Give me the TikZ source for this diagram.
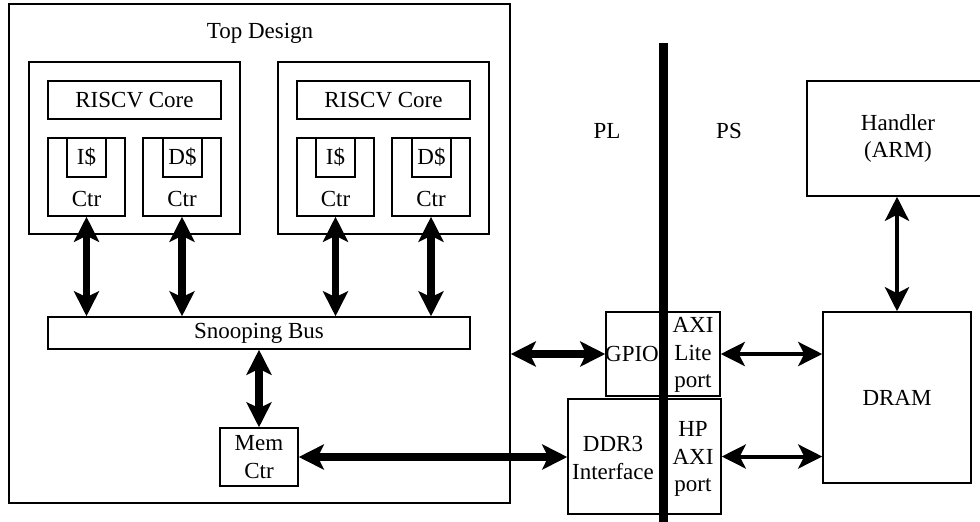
\documentclass[tikz,border=0pt]{standalone}
\usepackage{fontspec}
\setmainfont{Liberation Serif}
\usetikzlibrary{arrows.meta}

\tikzset{
  box/.style={draw, line width=0.75pt, inner sep=0pt, align=center},
  txt/.style={inner sep=0pt, align=center},
  bigarrow/.style={line width=3.75pt,
    {Stealth[length=12.5pt,width=12.5pt,inset=3pt]}-{Stealth[length=12.5pt,width=12.5pt,inset=3pt]}},
  thinarrow/.style={line width=2pt,
    {Stealth[length=12pt,width=12pt,inset=3pt]}-{Stealth[length=12pt,width=12pt,inset=3pt]}},
}

\begin{document}
\begin{tikzpicture}[x=0.5pt, y=-0.5pt, font=\fontsize{11.5}{13.6}\selectfont]
\useasboundingbox (0,0) rectangle (980,521);
\clip (0,0) rectangle (980,521);

% programmable logic: top design
\node[box, minimum width=250.5pt, minimum height=249.5pt] (top) at (259.5,253.5) {};
\node[txt] (toplbl) at (260,33) {Top Design};

% first core cluster
\node[box, minimum width=105.5pt, minimum height=86pt] (cl1) at (134.5,148) {};
\node[box, minimum width=86.5pt, minimum height=19pt] (core1) at (134.5,100) {RISCV Core};
\node[box, minimum width=38.5pt, minimum height=39pt] (ictr1) at (86.5,177) {};
\node[box, minimum width=39pt, minimum height=39pt] (dctr1) at (182,177) {};
\node[box, minimum width=19.5pt, minimum height=19.5pt] (ic1) at (86.5,157.5) {I\$};
\node[box, minimum width=19.5pt, minimum height=19.5pt] (dc1) at (182.5,157.5) {D\$};
\node[txt] (ictr1lbl) at (86.5,199) {Ctr};
\node[txt] (dctr1lbl) at (182,199) {Ctr};

% second core cluster
\node[box, minimum width=105.5pt, minimum height=86pt] (cl2) at (383.5,148) {};
\node[box, minimum width=86.5pt, minimum height=19pt] (core2) at (383.5,100) {RISCV Core};
\node[box, minimum width=38.5pt, minimum height=39pt] (ictr2) at (335.5,177) {};
\node[box, minimum width=39pt, minimum height=39pt] (dctr2) at (431,177) {};
\node[box, minimum width=19.5pt, minimum height=19.5pt] (ic2) at (335.5,157.5) {I\$};
\node[box, minimum width=19.5pt, minimum height=19.5pt] (dc2) at (431.5,157.5) {D\$};
\node[txt] (ictr2lbl) at (335.5,199) {Ctr};
\node[txt] (dctr2lbl) at (431,199) {Ctr};

% bus and memory controller
\node[box, minimum width=211pt, minimum height=16pt] (bus) at (259,333) {Snooping Bus};
\node[box, minimum width=39pt, minimum height=29pt] (memctr) at (259,457) {Mem\\Ctr};

% interface blocks straddling the PL/PS boundary
\node[box, minimum width=57pt, minimum height=42pt] (gpio) at (663,354) {};
\node[box, minimum width=76.5pt, minimum height=57.5pt] (ddr) at (644.5,456.5) {};
\node[txt] (gpiolbl) at (632,354) {GPIO};
\node[txt] (axilbl) at (693,355) {AXI\\Lite\\port};
\node[txt] (ddrlbl) at (613,458) {DDR3\\Interface};
\node[txt] (hplbl) at (693,459) {HP\\AXI\\port};

% processing system
\node[box, minimum width=91pt, minimum height=57.5pt] (handler) at (898,138.5) {Handler\\(ARM)};
\node[box, minimum width=74pt, minimum height=85.5pt] (dram) at (897,397.5) {DRAM};

\node[txt] (pl) at (607,131) {PL};
\node[txt] (ps) at (729,131) {PS};

% PL / PS divider
\coordinate (divtop) at (663.5,43);
\coordinate (divbot) at (663.5,530);
\draw[line width=4.5pt] (divtop) -- (divbot);

% connections
\draw[bigarrow] (ictr1.south) -- (ictr1.south |- bus.north);
\draw[bigarrow] (dctr1.south) -- (dctr1.south |- bus.north);
\draw[bigarrow] (ictr2.south) -- (ictr2.south |- bus.north);
\draw[bigarrow] (dctr2.south) -- (dctr2.south |- bus.north);
\draw[bigarrow] (bus.south -| memctr.north) -- (memctr.north);
\draw[bigarrow] (memctr.east) -- (memctr.east -| ddr.west);
\draw[bigarrow] (top.east |- gpio.west) -- (gpio.west);
\draw[thinarrow] (gpio.east) -- (gpio.east -| dram.west);
\draw[thinarrow] (ddr.east) -- (ddr.east -| dram.west);
\draw[thinarrow] (handler.south -| dram.north) -- (dram.north);
\end{tikzpicture}
\end{document}
